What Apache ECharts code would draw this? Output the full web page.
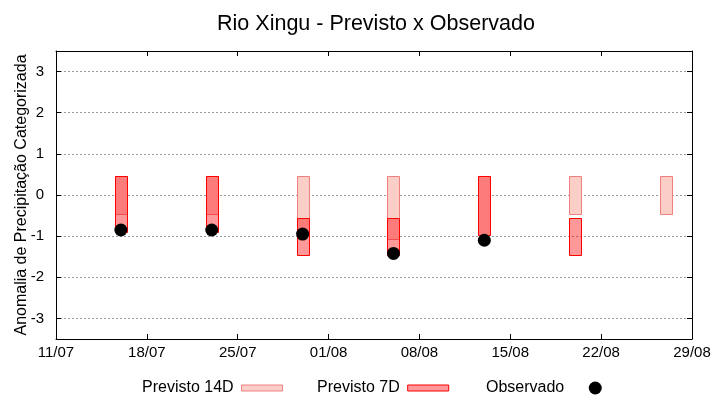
<!DOCTYPE html>
<html>
<head>
<meta charset="utf-8">
<script src="https://cdn.jsdelivr.net/npm/echarts@6/dist/echarts.min.js"></script>
<style>html,body{margin:0;padding:0;background:#fff}#chart{width:720px;height:400px}</style>
</head>
<body>
<div id="chart"></div>
<script>
// ---- data ----
const baseDate = '2025-07-11';          // first x tick (11/07)
const endDate = '2025-08-29';           // last x tick (29/08)
const weekDates = ['2025-07-16','2025-07-23','2025-07-30','2025-08-06','2025-08-13','2025-08-20','2025-08-27'];
// Previsto 14D boxes: low / high
const prev14Low  = [-0.45, -0.45, -0.93, -1.07, -0.97, -0.45, -0.45];
const prev14High = [ 0.45,  0.45,  0.45,  0.45,  0.45,  0.45,  0.45];
// Previsto 7D boxes: low / high (null = none)
const prev7Low   = [-0.90, -0.90, -1.45, -1.45, -0.97, -1.45, null];
const prev7High  = [ 0.45,  0.45, -0.55, -0.55,  0.45, -0.55, null];
// Observado
const observed   = [-0.85, -0.85, -0.95, -1.42, -1.10, null, null];

const DAY = 86400000;
function dayOffset(s){ const [y,m,d]=s.split('-').map(Number); const [by,bm,bd]=baseDate.split('-').map(Number); return Math.round((Date.UTC(y,m-1,d)-Date.UTC(by,bm-1,bd))/DAY); }
function fmtDay(v){ const [by,bm,bd]=baseDate.split('-').map(Number); const t=new Date(Date.UTC(by,bm-1,bd)+v*DAY); const dd=String(t.getUTCDate()).padStart(2,'0'); const mm=String(t.getUTCMonth()+1).padStart(2,'0'); return dd+'/'+mm; }

const xs = weekDates.map(dayOffset);
const xMax = dayOffset(endDate);
const box14 = xs.map((x,i)=>[x, prev14Low[i], prev14High[i]]);
const box7 = xs.map((x,i)=>prev7Low[i]==null?null:[x, prev7Low[i], prev7High[i]]).filter(Boolean);
const obs = xs.map((x,i)=>observed[i]==null?null:[x, observed[i]]).filter(Boolean);

const C14 = {fill:'#fccec8', stroke:'#f08080'};
const C7 = {fill:'rgba(255,0,0,0.4)', stroke:'#ff0000'};
const BOX_W = 0.92; // days

function boxRenderer(c){
  return function(params, api){
    const x = api.value(0), lo = api.value(1), hi = api.value(2);
    const p1 = api.coord([x, hi]), p2 = api.coord([x, lo]);
    const w = api.size([BOX_W, 0])[0];
    const x0 = Math.round(p1[0]-w/2)+0.5, y0 = Math.round(p1[1])+0.5, y1 = Math.round(p2[1])+0.5;
    return {type:'rect', shape:{x:x0, y:y0, width:Math.round(w), height:y1-y0},
            style:{fill:c.fill, stroke:c.stroke, lineWidth:1}};
  };
}

const FONT = 'Liberation Sans';
const chart = echarts.init(document.getElementById('chart'), null, {renderer:'canvas'});
const legendCommon = {top:380, align:'right', padding:0, textStyle:{fontSize:16, color:'#000', fontFamily:FONT, padding:[0,3,0,0]}, selectedMode:false};
chart.setOption({
  animation:false,
  backgroundColor:'#fff',
  textStyle:{fontFamily:FONT},
  title:{text:'Rio Xingu - Previsto x Observado', left:371, textAlign:'center', top:8,
         textStyle:{fontSize:21.5, fontWeight:'normal', color:'#000', fontFamily:FONT}},
  legend:[
    Object.assign({}, legendCommon, {left:142, itemWidth:41, itemHeight:6,
      data:[{name:'Previsto 14D', icon:'rect', itemStyle:{color:C14.fill, borderColor:C14.stroke, borderWidth:1}}]}),
    Object.assign({}, legendCommon, {left:317, itemWidth:41, itemHeight:6,
      data:[{name:'Previsto 7D', icon:'rect', itemStyle:{color:'#ff9999', borderColor:C7.stroke, borderWidth:1}}]}),
    Object.assign({}, legendCommon, {left:486, itemWidth:46, itemHeight:13,
      data:[{name:'Observado', icon:'circle', itemStyle:{color:'#000', opacity:1}}]})
  ],
  grid:{left:56, right:28, top:51, bottom:61, outerBoundsMode:'none', containLabel:false},
  xAxis:[
    {type:'value', min:0, max:xMax, interval:7, position:'bottom', z:1,
     axisLine:{show:true, onZero:false, lineStyle:{color:'#000', width:1}},
     axisTick:{show:true, inside:true, length:5, lineStyle:{color:'#000'}},
     axisLabel:{formatter:fmtDay, fontSize:15, color:'#000', margin:6, fontFamily:FONT},
     splitLine:{show:false}},
    {type:'value', min:0, max:xMax, interval:7, position:'top', z:1,
     axisLine:{show:true, onZero:false, lineStyle:{color:'#000', width:1}},
     axisTick:{show:true, inside:true, length:5, lineStyle:{color:'#000'}},
     axisLabel:{show:false}, splitLine:{show:false}}
  ],
  yAxis:[
    {type:'value', min:-3.5, max:3.5, splitNumber:7, position:'left',
     name:'Anomalia de Precipitação Categorizada', nameLocation:'middle', nameGap:26, nameMoveOverlap:false,
     nameTextStyle:{fontSize:16, color:'#000', fontFamily:FONT},
     axisLine:{show:true, onZero:false, lineStyle:{color:'#000', width:1}},
     axisTick:{show:true, inside:true, length:5, lineStyle:{color:'#000'}},
     axisLabel:{fontSize:15, color:'#000', margin:12, fontFamily:FONT, showMinLabel:false, showMaxLabel:false,
       formatter:v=>Number.isInteger(v)?String(v):''},
     splitLine:{show:true, lineStyle:{color:'#999', type:[2,2], width:1}}},
    {type:'value', min:-3.5, max:3.5, splitNumber:7, position:'right', z:1,
     axisLine:{show:true, onZero:false, lineStyle:{color:'#000', width:1}},
     axisTick:{show:true, inside:true, length:5, lineStyle:{color:'#000'}},
     axisLabel:{show:false}, splitLine:{show:false}}
  ],
  series:[
    {name:'Previsto 14D', type:'custom', renderItem:boxRenderer(C14), data:box14,
     encode:{x:0, y:[1,2]}, itemStyle:{color:C14.fill, borderColor:C14.stroke}, z:2},
    {name:'Previsto 7D', type:'custom', renderItem:boxRenderer(C7), data:box7,
     encode:{x:0, y:[1,2]}, itemStyle:{color:'#ff9999', borderColor:C7.stroke}, z:3},
    {name:'Observado', type:'scatter', data:obs, symbol:'circle', symbolSize:13,
     itemStyle:{color:'#000', opacity:1}, z:4}
  ]
});
</script>
</body>
</html>
